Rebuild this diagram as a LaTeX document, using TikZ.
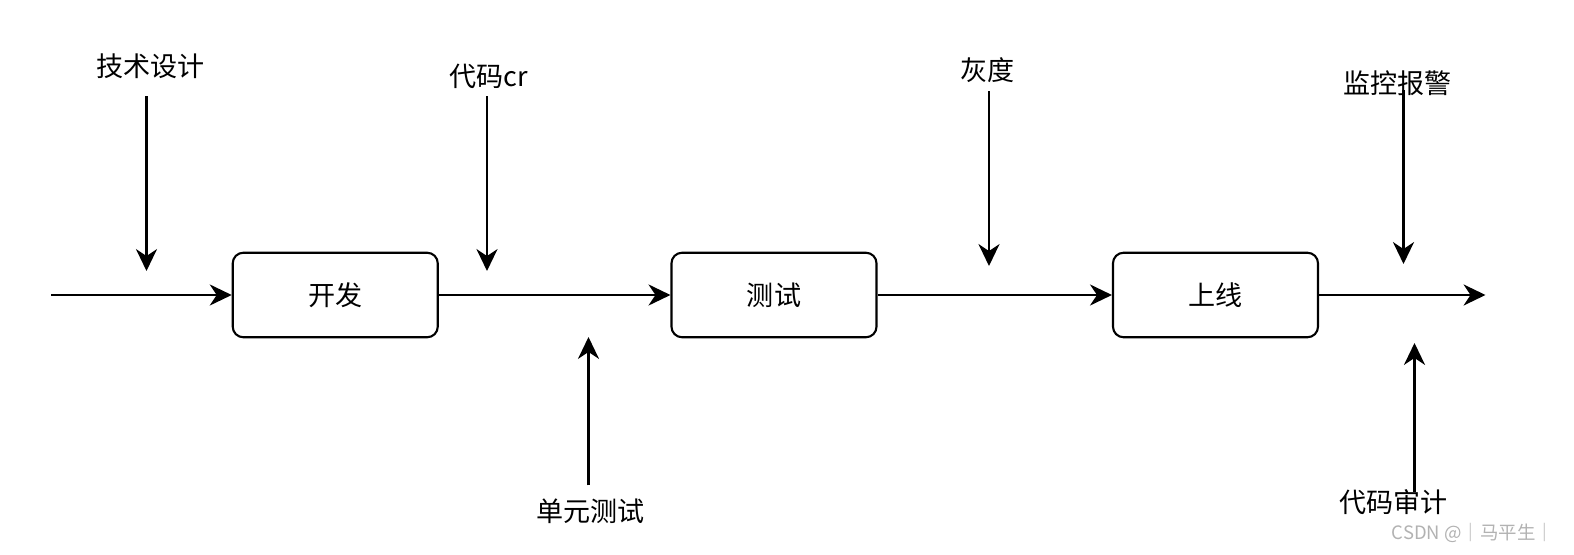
\documentclass[tikz,border=0pt]{standalone}
\usepackage{fontspec}
\usepackage{tikz}
\usetikzlibrary{arrows.meta, positioning, calc}
\newfontfamily\cjk{Noto Sans CJK SC}
\tikzset{>={Stealth[length=12.5pt,width=12pt,inset=4pt]}}
\tikzset{stagebox/.style={draw, line width=1.2pt, rounded corners=6pt, minimum width=4.1cm, minimum height=1.69cm, font=\cjk\fontsize{15.4pt}{18pt}\selectfont},
	steplabel/.style={font=\cjk\fontsize{15.4pt}{18pt}\selectfont, inner sep=0pt},
	flow/.style={->, line width=1.2pt}}

\begin{document}
\begin{tikzpicture}

	\useasboundingbox (0,0) rectangle (31.48,11.08);

	% main line
	\node [stagebox] (kaifa) at (6.705,5.18) {开发};
	\node [stagebox] (ceshi) at (15.48,5.18) {测试};
	\node [stagebox] (shangxian) at (24.31,5.18) {上线};
	\coordinate (start) at (1.024,5.18);
	\coordinate (end) at (29.71,5.18);

	\draw [flow] (start) -- (kaifa);
	\draw [flow] (kaifa) -- (ceshi);
	\draw [flow] (ceshi) -- (shangxian);
	\draw [flow] (shangxian) -- (end);

	% labels from above
	\node [steplabel] (jishusheji) at (3.01,9.75) {技术设计};
	\node [steplabel] (daimacr) at (9.78,9.55) {代码cr};
	\node [steplabel] (huidu) at (19.75,9.67) {灰度};
	\node [steplabel] (jiankong) at (27.95,9.41) {监控报警};

	\coordinate (jishusheji top) at (2.93,9.15);
	\coordinate (jishusheji tip) at (2.93,5.66);
	\coordinate (daimacr top) at (9.74,9.15);
	\coordinate (daimacr tip) at (9.74,5.66);
	\coordinate (huidu top) at (19.78,9.25);
	\coordinate (huidu tip) at (19.78,5.76);
	\coordinate (jiankong top) at (28.07,9.27);
	\coordinate (jiankong tip) at (28.07,5.80);

	\draw [flow] (jishusheji top) -- (jishusheji tip);
	\draw [flow] (daimacr top) -- (daimacr tip);
	\draw [flow] (huidu top) -- (huidu tip);
	\draw [flow] (jiankong top) -- (jiankong tip);

	% labels from below
	\node [steplabel] (danyuan) at (11.81,0.86) {单元测试};
	\node [steplabel] (shenji) at (27.87,1.04) {代码审计};

	\coordinate (danyuan foot) at (11.77,1.37);
	\coordinate (danyuan tip) at (11.77,4.34);
	\coordinate (shenji foot) at (28.29,1.24);
	\coordinate (shenji tip) at (28.29,4.22);

	\draw [flow] (danyuan foot) -- (danyuan tip);
	\draw [flow] (shenji foot) -- (shenji tip);

	\node [gray!60, font=\cjk\fontsize{10.5pt}{12pt}\selectfont, inner sep=0pt] (mark) at (29.46,0.42) {CSDN @｜马平生｜};

\end{tikzpicture}
\end{document}
